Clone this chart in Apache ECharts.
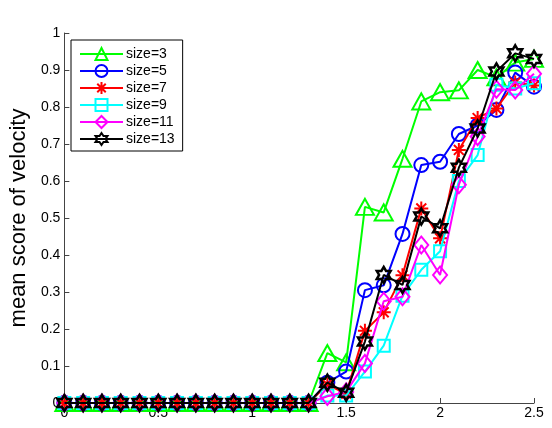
<!DOCTYPE html>
<html>
<head>
<meta charset="utf-8">
<script src="https://cdn.jsdelivr.net/npm/echarts@6/dist/echarts.min.js"></script>
<style>
html,body{margin:0;padding:0;background:#fff;}
#chart{width:552px;height:428px;}
</style>
</head>
<body>
<div id="chart"></div>
<script>
const xValues = [0, 0.1, 0.2, 0.3, 0.4, 0.5, 0.6, 0.7, 0.8, 0.9, 1.0, 1.1, 1.2, 1.3, 1.4, 1.5, 1.6, 1.7, 1.8, 1.9, 2.0, 2.1, 2.2, 2.3, 2.4, 2.5];
const seriesNames = ['size=3', 'size=5', 'size=7', 'size=9', 'size=11', 'size=13'];
const size3  = [0,0,0,0,0,0,0,0,0,0,0,0,0,0, 0.135, 0.11, 0.53, 0.515, 0.66, 0.815, 0.84, 0.845, 0.90, 0.88, 0.92, 0.93];
const size5  = [0,0,0,0,0,0,0,0,0,0,0,0,0,0, 0.055, 0.085, 0.305, 0.318, 0.457, 0.643, 0.652, 0.727, 0.75, 0.792, 0.893, 0.855];
const size7  = [0,0,0,0,0,0,0,0,0,0,0,0,0,0, 0.05, 0.025, 0.195, 0.245, 0.345, 0.526, 0.445, 0.684, 0.77, 0.796, 0.866, 0.858];
const size9  = [0,0,0,0,0,0,0,0,0,0,0,0,0,0, 0.02, 0.02, 0.085, 0.155, 0.29, 0.36, 0.41, 0.6, 0.67, 0.86, 0.85, 0.864];
const size11 = [0,0,0,0,0,0,0,0,0,0,0,0,0,0, 0.018, 0.03, 0.107, 0.275, 0.287, 0.427, 0.346, 0.59, 0.72, 0.848, 0.846, 0.89];
const size13 = [0,0,0,0,0,0,0,0,0,0,0,0,0,0, 0.055, 0.028, 0.166, 0.346, 0.319, 0.504, 0.472, 0.636, 0.742, 0.896, 0.945, 0.93];
const xTicks = [0, 0.5, 1, 1.5, 2, 2.5];
const yTicks = [0, 0.1, 0.2, 0.3, 0.4, 0.5, 0.6, 0.7, 0.8, 0.9, 1];

const allData = [size3, size5, size7, size9, size11, size13];
const colors = ['#00ff00', '#0000ff', '#ff0000', '#00ffff', '#ff00ff', '#000000'];
const hexagram = 'path://M0,-100L28.87,-50L86.6,-50L57.7,0L86.6,50L28.87,50L0,100L-28.87,50L-86.6,50L-57.7,0L-86.6,-50L-28.87,-50Z';
const asterisk = 'path://M0,-100L0,100M-100,0L100,0M-70.7,-70.7L70.7,70.7M-70.7,70.7L70.7,-70.7';
const symbols = ['triangle', 'circle', asterisk, 'rect', 'diamond', hexagram];
const symbolSizes = [[18, 16], 14, 14, 12, [14, 17], 16];

const series = seriesNames.map((name, i) => ({
  name: name,
  type: 'line',
  data: xValues.map((x, j) => [x, allData[i][j]]),
  symbol: symbols[i],
  symbolSize: symbolSizes[i],
  symbolKeepAspect: true,
  showAllSymbol: true,
  lineStyle: { color: colors[i], width: 2 },
  itemStyle: { color: 'rgba(255,255,255,0)', borderColor: colors[i], borderWidth: i === 5 ? 2.5 : 2 },
  emphasis: { disabled: true },
  z: 2 + i,
  animation: false
}));

const chart = echarts.init(document.getElementById('chart'));
chart.setOption({
  backgroundColor: '#fff',
  animation: false,
  textStyle: { fontFamily: 'Liberation Sans, Arial, sans-serif' },
  grid: { left: 64, right: 18, top: 33, bottom: 25, containLabel: false },
  legend: {
    orient: 'vertical',
    left: 71,
    top: 40,
    data: seriesNames,
    itemWidth: 43,
    itemHeight: 15,
    itemGap: 3,
    padding: [7, 8, 5, 8],
    borderColor: '#000',
    borderWidth: 1,
    backgroundColor: '#fff',
    textStyle: { fontSize: 14, color: '#000', fontFamily: 'Liberation Sans, Arial, sans-serif', padding: [0, 0, 0, -2] }
  },
  xAxis: {
    type: 'value',
    min: 0,
    max: 2.5,
    interval: 0.5,
    axisLine: { lineStyle: { color: '#444', width: 1 } },
    axisTick: { inside: true, length: 5, lineStyle: { color: '#444' } },
    splitLine: { show: false },
    axisLabel: {
      color: '#000', fontSize: 14, margin: 3,
      formatter: v => xTicks.includes(v) ? String(v) : ''
    }
  },
  yAxis: {
    type: 'value',
    min: 0,
    max: 1,
    interval: 0.1,
    name: 'mean score of velocity',
    nameLocation: 'middle',
    nameGap: 31,
    nameTextStyle: { fontSize: 22, color: '#000', fontFamily: 'Liberation Sans, Arial, sans-serif' },
    axisLine: { show: true, lineStyle: { color: '#444', width: 1 } },
    axisTick: { show: true, inside: true, length: 5, lineStyle: { color: '#444' } },
    splitLine: { show: false },
    axisLabel: {
      color: '#000', fontSize: 14, margin: 4,
      formatter: v => {
        const t = yTicks.find(y => Math.abs(y - v) < 1e-9);
        return t === undefined ? '' : String(t);
      }
    }
  },
  series: series
});
</script>
</body>
</html>
